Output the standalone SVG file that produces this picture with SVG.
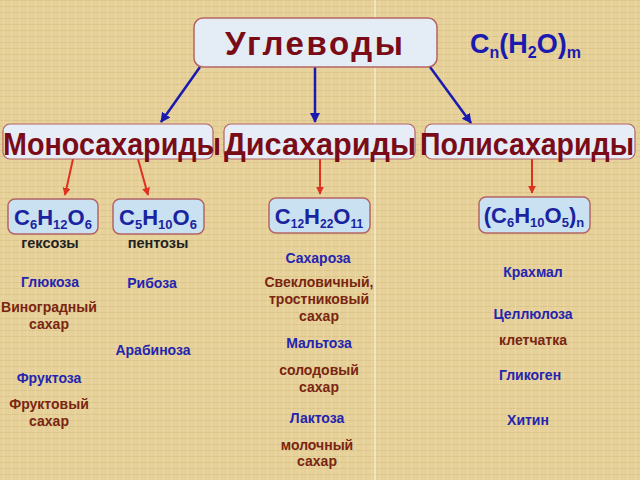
<svg xmlns="http://www.w3.org/2000/svg" width="640" height="480" viewBox="0 0 640 480">
<defs>
<pattern id="tex" width="8" height="6" patternUnits="userSpaceOnUse">
<rect width="8" height="6" fill="#e5d199"/>
<line x1="0" y1="0.5" x2="8" y2="0.5" stroke="#d6bd82" stroke-width="1" opacity="0.6"/>
<line x1="3.5" y1="0" x2="3.5" y2="6" stroke="#efdfae" stroke-width="1" opacity="0.5"/>
</pattern>
<marker id="ab" viewBox="0 0 10 10" refX="9" refY="5" markerWidth="4" markerHeight="4" orient="auto"><path d="M0,0 L10,5 L0,10 z" fill="#1a1ab0"/></marker>
<marker id="ar" viewBox="0 0 10 10" refX="9" refY="5" markerWidth="4" markerHeight="4" orient="auto"><path d="M0,0 L10,5 L0,10 z" fill="#e03020"/></marker>
<style>
.top{fill:#e4ecf6;stroke:#b46464;stroke-width:1.5}
.cat{fill:#e6edf6;stroke:#b46464;stroke-width:1.2}
.fbox{fill:#c9e1f1;stroke:#b46464;stroke-width:1.5}
.title{font-family:"Liberation Sans",Arial,sans-serif;font-weight:bold;fill:#7a0c18;text-anchor:middle}
.form{font-family:"Liberation Sans",Arial,sans-serif;font-weight:bold;fill:#1a24a0;text-anchor:middle}
.lbl{font-family:"Liberation Sans",Arial,sans-serif;font-weight:bold;font-size:14px;text-anchor:middle}
.blue{fill:#2424b0}
.brown{fill:#7a2412}
.blk{fill:#222222;font-size:14.5px}
.ba{stroke:#1a1ab0;stroke-width:2.5;fill:none;marker-end:url(#ab)}
.ra{stroke:#e03020;stroke-width:2;fill:none;marker-end:url(#ar)}
</style>
</defs>
<rect width="640" height="480" fill="url(#tex)"/>
<line x1="375" y1="0" x2="375" y2="480" stroke="#fbf3dc" stroke-width="1.2"/>

<g id="connectors">
<line class="ba" x1="200" y1="67" x2="161" y2="122"/>
<line class="ba" x1="315" y1="67" x2="315" y2="122"/>
<line class="ba" x1="430" y1="67" x2="471" y2="123"/>
<line class="ra" x1="73" y1="159" x2="65" y2="195"/>
<line class="ra" x1="138" y1="159" x2="148" y2="195"/>
<line class="ra" x1="320" y1="159" x2="320" y2="194"/>
<line class="ra" x1="532" y1="159" x2="532" y2="193"/>
</g>

<g id="carbs">
<rect class="top" x="194" y="18" width="243" height="49" rx="9"/>
<text class="title" x="314" y="55" font-size="33" textLength="178" lengthAdjust="spacing">Углеводы</text>
</g>

<g id="general-formula">
<text x="470" y="53" font-family="'Liberation Sans',Arial,sans-serif" font-weight="bold" font-size="27" fill="#1a1ab0">C<tspan font-size="16" dy="5">n</tspan><tspan dy="-5">(H</tspan><tspan font-size="16" dy="5">2</tspan><tspan dy="-5">O)</tspan><tspan font-size="16" dy="5">m</tspan></text>
</g>

<g id="mono">
<rect class="cat" x="3" y="124" width="210" height="35" rx="7"/>
<text class="title" x="112" y="155" font-size="32" textLength="218" lengthAdjust="spacingAndGlyphs">Моносахариды</text>
</g>
<g id="di">
<rect class="cat" x="224" y="124" width="191" height="35" rx="7"/>
<text class="title" x="320" y="155" font-size="32" textLength="192" lengthAdjust="spacingAndGlyphs">Дисахариды</text>
</g>
<g id="poly">
<rect class="cat" x="425" y="124" width="210" height="35" rx="7"/>
<text class="title" x="527" y="155" font-size="32" textLength="214" lengthAdjust="spacingAndGlyphs">Полисахариды</text>
</g>

<g id="hexoses">
<rect class="fbox" x="8" y="199" width="90" height="35" rx="7"/>
<text class="form" x="53" y="225" font-size="22">C<tspan font-size="13" dy="4">6</tspan><tspan dy="-4">H</tspan><tspan font-size="13" dy="4">12</tspan><tspan dy="-4">O</tspan><tspan font-size="13" dy="4">6</tspan></text>
<text class="lbl blk" x="50" y="248">гексозы</text>
<text class="lbl blue" x="50" y="287">Глюкоза</text>
<text class="lbl brown" x="49" y="312">Виноградный</text>
<text class="lbl brown" x="49" y="329">сахар</text>
<text class="lbl blue" x="49" y="383">Фруктоза</text>
<text class="lbl brown" x="49" y="409">Фруктовый</text>
<text class="lbl brown" x="49" y="426">сахар</text>
</g>

<g id="pentoses">
<rect class="fbox" x="113" y="199" width="91" height="35" rx="7"/>
<text class="form" x="158" y="225" font-size="22">C<tspan font-size="13" dy="4">5</tspan><tspan dy="-4">H</tspan><tspan font-size="13" dy="4">10</tspan><tspan dy="-4">O</tspan><tspan font-size="13" dy="4">6</tspan></text>
<text class="lbl blk" x="158" y="248">пентозы</text>
<text class="lbl blue" x="152" y="288">Рибоза</text>
<text class="lbl blue" x="153" y="355">Арабиноза</text>
</g>

<g id="disaccharides">
<rect class="fbox" x="269" y="198" width="101" height="35" rx="7"/>
<text class="form" x="319" y="224" font-size="22">C<tspan font-size="12" dy="4">12</tspan><tspan dy="-4">H</tspan><tspan font-size="12" dy="4">22</tspan><tspan dy="-4">O</tspan><tspan font-size="12" dy="4">11</tspan></text>
<text class="lbl blue" x="318" y="263">Сахароза</text>
<text class="lbl brown" x="319" y="287">Свекловичный,</text>
<text class="lbl brown" x="319" y="304">тростниковый</text>
<text class="lbl brown" x="319" y="321">сахар</text>
<text class="lbl blue" x="319" y="348">Мальтоза</text>
<text class="lbl brown" x="319" y="375">солодовый</text>
<text class="lbl brown" x="319" y="392">сахар</text>
<text class="lbl blue" x="317" y="423">Лактоза</text>
<text class="lbl brown" x="317" y="450">молочный</text>
<text class="lbl brown" x="317" y="466">сахар</text>
</g>

<g id="polysaccharides">
<rect class="fbox" x="479" y="197" width="111" height="36" rx="7"/>
<text class="form" x="534" y="223" font-size="22">(C<tspan font-size="13" dy="4">6</tspan><tspan dy="-4">H</tspan><tspan font-size="13" dy="4">10</tspan><tspan dy="-4">O</tspan><tspan font-size="13" dy="4">5</tspan><tspan dy="-4">)</tspan><tspan font-size="13" dy="4">n</tspan></text>
<text class="lbl blue" x="533" y="277">Крахмал</text>
<text class="lbl blue" x="533" y="319">Целлюлоза</text>
<text class="lbl brown" x="533" y="345">клетчатка</text>
<text class="lbl blue" x="530" y="380">Гликоген</text>
<text class="lbl blue" x="528" y="425">Хитин</text>
</g>
</svg>
